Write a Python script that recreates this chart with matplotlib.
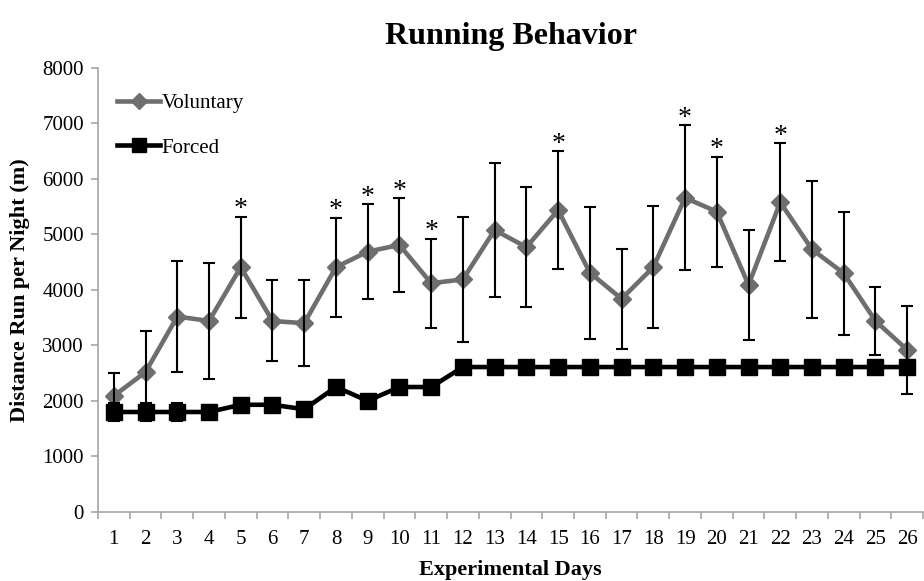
import matplotlib.pyplot as plt

days = list(range(1, 27))

voluntary = [2090, 2520, 3520, 3440, 4410, 3440, 3400, 4410, 4690, 4810,
             4120, 4190, 5080, 4770, 5440, 4310, 3840, 4410, 5660, 5410,
             4090, 5580, 4730, 4300, 3440, 2920]
voluntary_err = [420, 740, 1000, 1050, 910, 730, 780, 890, 850, 840,
                 800, 1130, 1210, 1080, 1060, 1190, 900, 1100, 1310, 990,
                 990, 1060, 1240, 1110, 620, 790]

forced = [1800, 1800, 1800, 1800, 1930, 1930, 1850, 2250, 2000, 2250,
          2250, 2610, 2610, 2610, 2610, 2610, 2610, 2610, 2610, 2610,
          2610, 2610, 2610, 2610, 2610, 2610]
forced_err = [170, 170, 170, 120, 0, 0, 0, 0, 0, 0,
              0, 0, 0, 0, 0, 0, 0, 0, 0, 0,
              0, 0, 0, 0, 0, 0]

# days with a significant difference
signif_days = [5, 8, 9, 10, 11, 15, 19, 20, 22]

plt.rcParams['font.family'] = ['Liberation Serif', 'DejaVu Serif']

fig = plt.figure(figsize=(9.24, 5.81), dpi=100)
ax = fig.add_axes([0.106, 0.119, 0.893, 0.764])

ax.plot(days, voluntary, color='#6e6e6e', lw=3.3, marker='D', ms=9.5,
        mec='#6e6e6e', mfc='#6e6e6e', label='Voluntary', zorder=3)
ax.plot(days, forced, color='black', lw=3.3, marker='s', ms=11.5,
        label='Forced', zorder=3)

ax.errorbar(days, voluntary, yerr=voluntary_err, fmt='none', ecolor='black',
            elinewidth=1.5, capsize=4, capthick=1.5, zorder=4)
ax.errorbar(days, forced, yerr=forced_err, fmt='none', ecolor='black',
            elinewidth=1.5, capsize=4, capthick=1.5, zorder=4)

for d in signif_days:
    i = d - 1
    ax.annotate('*', (d, voluntary[i] + voluntary_err[i]), xytext=(0, -4),
                textcoords='offset points', ha='center', va='bottom',
                fontsize=20)

ax.set_xlim(0.5, 26.5)
ax.set_ylim(0, 8000)
ax.set_yticks(range(0, 8001, 1000))
ax.set_xticks(days)
ax.set_xticks([d + 0.5 for d in range(0, 27)], minor=True)

for side in ['top', 'right']:
    ax.spines[side].set_visible(False)
for side in ['left', 'bottom']:
    ax.spines[side].set_color('#a6a6a6')
    ax.spines[side].set_linewidth(1.2)

ax.tick_params(axis='y', colors='#a6a6a6', length=5, width=1.2,
               labelcolor='black', labelsize=15, pad=5)
ax.tick_params(axis='x', which='major', length=0, labelsize=15,
               labelcolor='black', pad=13)
ax.tick_params(axis='x', which='minor', length=5, width=1.2, colors='#a6a6a6')

ax.set_title('Running Behavior', fontsize=23, fontweight='bold', pad=17)
ax.set_xlabel('Experimental Days', fontsize=16, fontweight='bold',
              labelpad=8)
ax.set_ylabel('Distance Run per Night (m)', fontsize=16, fontweight='bold',
              labelpad=9)

leg = ax.legend(loc='upper left', bbox_to_anchor=(0.0, 0.985),
                frameon=False, fontsize=15, handlelength=2.1,
                handletextpad=0.05, labelspacing=1.2, markerscale=0.9)

fig.savefig('out.png', dpi=100)
